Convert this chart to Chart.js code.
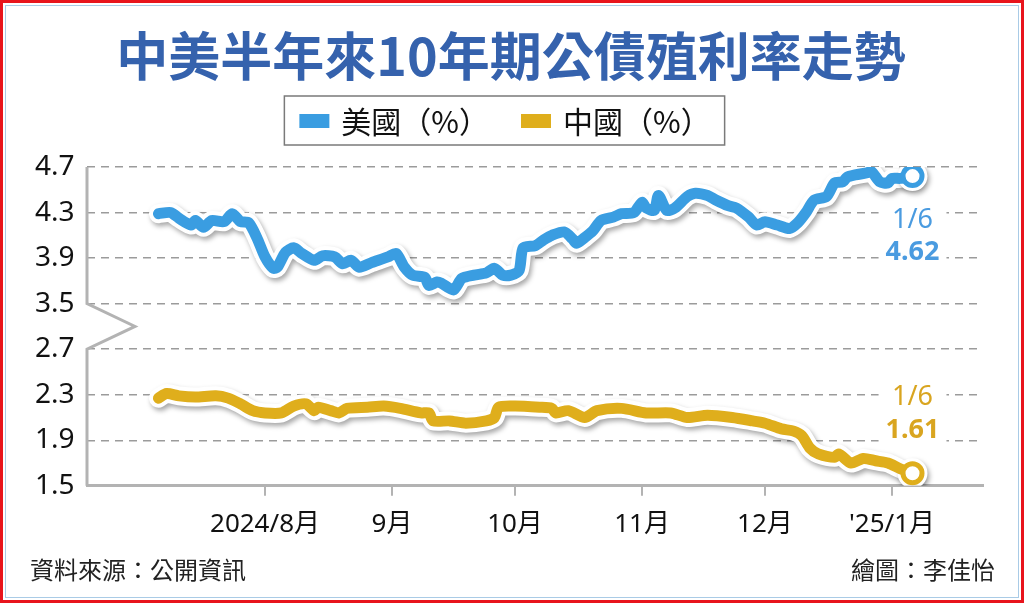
<!DOCTYPE html>
<html>
<head>
<meta charset="utf-8" />
<title>中美半年來10年期公債殖利率走勢</title>
<style>
    body { margin: 0; background: #fff; }
    #wrap { position: relative; width: 1024px; height: 603px; }
    #frameOuter { position: absolute; left: 0; top: 0; right: 0; bottom: 0; border: 3px solid #e8141c; pointer-events: none; }
    #frameInner { position: absolute; left: 5px; top: 5px; right: 5px; bottom: 5px; border: 1.5px solid #a9cbe6; pointer-events: none; }
</style>
</head>
<body>
<div id="wrap">
    <canvas id="chartCanvas"></canvas>
    <div id="frameOuter"></div>
    <div id="frameInner"></div>
</div>

<script src="https://cdn.jsdelivr.net/npm/chart.js@4/dist/chart.umd.min.js"></script>
<script>
    // ---- data ----
    var titleText = '中美半年來10年期公債殖利率走勢';
    var seriesNames = ['美國（%）', '中國（%）'];
    var seriesColors = ['#3a9de1', '#dfae1c'];
    var labelColors = ['#4a9be0', '#d9a520'];
    var yTickLabels = ['1.5', '1.9', '2.3', '2.7', '3.5', '3.9', '4.3', '4.7'];
    var monthTicks = ['8/1', '9/1', '10/1', '11/1', '12/1', '1/1'];
    var monthLabels = ['2024/8月', '9月', '10月', '11月', '12月', "'25/1月"];
    var sourceText = '資料來源：公開資訊';
    var creditText = '繪圖：李佳怡';

    var usDates = ['7/6', '7/9', '7/11', '7/14', '7/15', '7/17', '7/19', '7/22', '7/24', '7/26', '7/28', '7/30',
        '8/1', '8/3', '8/4', '8/6', '8/8', '8/10', '8/13', '8/15', '8/18', '8/20', '8/22', '8/24', '8/27', '8/31',
        '9/2', '9/4', '9/6', '9/9', '9/10', '9/12', '9/13', '9/16', '9/18', '9/21', '9/24', '9/26', '9/28', '9/30',
        '10/2', '10/3', '10/6', '10/8', '10/10', '10/13', '10/15', '10/16', '10/18', '10/20', '10/22', '10/25', '10/27', '10/30',
        '11/1', '11/2', '11/4', '11/5', '11/7', '11/9', '11/12', '11/14', '11/17', '11/19', '11/22', '11/24', '11/27', '11/29',
        '12/1', '12/4', '12/7', '12/9', '12/11', '12/13', '12/16', '12/18', '12/20', '12/21', '12/23', '12/26', '12/27', '12/29', '12/31',
        '1/1', '1/3', '1/6'];
    var usValues = [4.29, 4.30, 4.25, 4.19, 4.23, 4.17, 4.23, 4.22, 4.29, 4.22, 4.21, 4.08,
        3.91, 3.81, 3.82, 3.95, 3.99, 3.94, 3.88, 3.92, 3.91, 3.85, 3.88, 3.82, 3.86, 3.91,
        3.94, 3.82, 3.75, 3.73, 3.66, 3.69, 3.68, 3.62, 3.72, 3.75, 3.77, 3.81, 3.75, 3.75,
        3.79, 3.99, 4.01, 4.06, 4.10, 4.13, 4.07, 4.03, 4.08, 4.14, 4.23, 4.26, 4.29, 4.30,
        4.39, 4.34, 4.32, 4.45, 4.32, 4.34, 4.44, 4.47, 4.45, 4.41, 4.36, 4.34, 4.26, 4.19,
        4.22, 4.19, 4.16, 4.21, 4.30, 4.41, 4.44, 4.56, 4.57, 4.61, 4.63, 4.65, 4.66, 4.57, 4.56,
        4.60, 4.60, 4.62];

    var cnDates = ['7/6', '7/8', '7/11', '7/15', '7/20', '7/23', '7/26', '7/29',
        '8/1', '8/5', '8/8', '8/11', '8/13', '8/14', '8/17', '8/19', '8/21', '8/26', '8/30',
        '9/3', '9/8', '9/10', '9/11', '9/15', '9/19', '9/24', '9/26', '9/27',
        '10/1', '10/7', '10/10', '10/11', '10/14', '10/18', '10/21', '10/27',
        '11/2', '11/8', '11/12', '11/17', '11/23', '11/28',
        '12/1', '12/5', '12/8', '12/10', '12/12', '12/14', '12/18', '12/19', '12/22', '12/25', '12/28', '12/31',
        '1/3', '1/6'];
    var cnValues = [2.27, 2.31, 2.29, 2.28, 2.29, 2.27, 2.22, 2.16,
        2.14, 2.14, 2.20, 2.22, 2.16, 2.19, 2.16, 2.14, 2.18, 2.19, 2.20,
        2.18, 2.14, 2.14, 2.07, 2.07, 2.05, 2.07, 2.10, 2.19,
        2.20, 2.19, 2.18, 2.14, 2.16, 2.10, 2.16, 2.18,
        2.14, 2.14, 2.10, 2.12, 2.10, 2.07,
        2.05, 2.00, 1.98, 1.94, 1.83, 1.78, 1.75, 1.78, 1.70, 1.74, 1.72, 1.70,
        1.65, 1.61];

    // ---- helpers ----
    function dayIndex(md) {
        var p = md.split('/');
        var m = +p[0], d = +p[1];
        var y = m >= 7 ? 2024 : 2025;
        return (Date.UTC(y, m - 1, d) - Date.UTC(2024, 6, 1)) / 86400000;
    }
    // broken y axis: 1.5..2.7 -> 0..3, 3.5..4.7 -> 4..7
    function axisPos(v) {
        return v >= 3.1 ? 4 + (v - 3.5) / 0.4 : (v - 1.5) / 0.4;
    }
    function toPoints(dates, values) {
        return dates.map(function (d, i) { return { x: dayIndex(d), y: axisPos(values[i]) }; });
    }

    var cjk = "'Noto Sans CJK TC', 'Noto Sans', sans-serif";
    var latin = "'Noto Sans', 'Noto Sans CJK TC', sans-serif";

    function outlineSet(points) {
        var last = points.length - 1;
        return {
            data: points, isOutline: true, order: 2,
            borderColor: '#ffffff', borderWidth: 19, tension: 0.25,
            borderJoinStyle: 'round', borderCapStyle: 'round',
            pointRadius: function (c) { return c.dataIndex === last ? 9.5 : 0; },
            pointBackgroundColor: '#ffffff', pointBorderColor: '#ffffff', pointBorderWidth: 11
        };
    }
    function colorSet(points, color) {
        var last = points.length - 1;
        return {
            data: points, order: 1,
            borderColor: color, backgroundColor: color, borderWidth: 11, tension: 0.25,
            borderJoinStyle: 'round', borderCapStyle: 'round',
            pointRadius: function (c) { return c.dataIndex === last ? 9.5 : 0; },
            pointBackgroundColor: '#ffffff', pointBorderColor: color, pointBorderWidth: 5
        };
    }

    var usPoints = toPoints(usDates, usValues);
    var cnPoints = toPoints(cnDates, cnValues);

    // ---- plugins ----
    var shadowPlugin = {
        id: 'lineShadow',
        beforeDatasetDraw: function (chart, args) {
            if (!chart.data.datasets[args.index].isOutline) return;
            var ctx = chart.ctx;
            ctx.save();
            ctx.shadowColor = 'rgba(0,0,0,0.35)';
            ctx.shadowBlur = 5;
            ctx.shadowOffsetX = 2;
            ctx.shadowOffsetY = 3;
        },
        afterDatasetDraw: function (chart, args) {
            if (chart.data.datasets[args.index].isOutline) chart.ctx.restore();
        }
    };

    var axisBreakPlugin = {
        id: 'axisBreak',
        beforeDatasetsDraw: function (chart) {
            var y = chart.scales.y, a = chart.chartArea, ctx = chart.ctx;
            var hi = y.getPixelForValue(4), lo = y.getPixelForValue(3);
            ctx.save();
            ctx.strokeStyle = '#b3b3b3';
            ctx.lineWidth = 3;
            ctx.beginPath();
            ctx.moveTo(a.left, a.top);
            ctx.lineTo(a.left, hi);
            ctx.lineTo(a.left + 48, (hi + lo) / 2);
            ctx.lineTo(a.left, lo);
            ctx.lineTo(a.left, a.bottom);
            ctx.stroke();
            ctx.restore();
        }
    };

    var endLabelPlugin = {
        id: 'endLabels',
        afterDatasetsDraw: function (chart) {
            var ctx = chart.ctx;
            var items = [
                { idx: 1, dates: usDates, values: usValues, color: labelColors[0], off: [44, 76] },
                { idx: 3, dates: cnDates, values: cnValues, color: labelColors[1], off: [-76, -43] }
            ];
            ctx.save();
            ctx.textAlign = 'center';
            ctx.textBaseline = 'middle';
            items.forEach(function (it) {
                var meta = chart.getDatasetMeta(it.idx);
                var pt = meta.data[meta.data.length - 1];
                var t1 = it.dates[it.dates.length - 1];
                var t2 = it.values[it.values.length - 1].toFixed(2);
                ctx.font = "bold 27px " + latin;
                var w = Math.max(ctx.measureText(t1).width, ctx.measureText(t2).width) + 14;
                var top = Math.min(pt.y + it.off[0], pt.y + it.off[1]) - 16;
                ctx.fillStyle = '#ffffff';
                ctx.fillRect(pt.x - w / 2, top, w, Math.abs(it.off[1] - it.off[0]) + 32);
                ctx.fillStyle = it.color;
                ctx.font = "27px " + latin;
                ctx.fillText(t1, pt.x, pt.y + it.off[0]);
                ctx.font = "bold 27px " + latin;
                ctx.fillText(t2, pt.x, pt.y + it.off[1]);
            });
            ctx.restore();
        }
    };

    var headerFooterPlugin = {
        id: 'headerFooter',
        afterDraw: function (chart) {
            var ctx = chart.ctx;
            ctx.save();
            // title
            ctx.font = "bold 52px " + cjk;
            ctx.fillStyle = '#3562ad';
            ctx.textAlign = 'center';
            ctx.textBaseline = 'middle';
            ctx.fillText(titleText, 511, 56);
            // legend
            ctx.font = "30px " + cjk;
            var sw = 30, gapText = 12, gapItem = 32;
            var w0 = ctx.measureText(seriesNames[0]).width;
            var w1 = ctx.measureText(seriesNames[1]).width;
            var total = sw + gapText + w0 + gapItem + sw + gapText + w1;
            var x = 505 - total / 2, cy = 121;
            ctx.strokeStyle = '#7a7a7a';
            ctx.lineWidth = 1.5;
            ctx.strokeRect(x - 15, 96, total + 29, 49);
            ctx.textAlign = 'left';
            [w0, w1].forEach(function (w, i) {
                ctx.fillStyle = seriesColors[i];
                ctx.fillRect(x, cy - 7, sw, 14);
                ctx.fillStyle = '#111';
                ctx.fillText(seriesNames[i], x + sw + gapText, cy + 1);
                x += sw + gapText + w + gapItem;
            });
            // footer
            ctx.font = "24px " + cjk;
            ctx.fillStyle = '#222';
            ctx.fillText(sourceText, 30, 570);
            ctx.textAlign = 'right';
            ctx.fillText(creditText, 995, 570);
            ctx.restore();
        }
    };

    Chart.defaults.font.family = latin;

    var chart1 = new Chart(document.getElementById('chartCanvas'), {
        type: 'line',
        data: {
            datasets: [
                outlineSet(usPoints),
                colorSet(usPoints, seriesColors[0]),
                outlineSet(cnPoints),
                colorSet(cnPoints, seriesColors[1])
            ]
        },
        options: {
            responsive: true,
            maintainAspectRatio: false,
            animation: false,
            layout: { padding: { left: 35, right: 41, top: 167, bottom: 50 } },
            plugins: {
                legend: { display: false },
                tooltip: { enabled: false },
                title: { display: false }
            },
            scales: {
                x: {
                    type: 'linear',
                    min: -12.44,
                    max: 206.2,
                    afterBuildTicks: function (scale) {
                        scale.ticks = monthTicks.map(function (d) { return { value: dayIndex(d) }; });
                    },
                    ticks: {
                        autoSkip: false, maxRotation: 0, padding: 13,
                        color: '#111', font: { size: 26 },
                        callback: function (value, index) { return monthLabels[index]; }
                    },
                    grid: { display: true, drawOnChartArea: false, drawTicks: true, tickLength: 10, color: '#b3b3b3', lineWidth: 2 },
                    border: { display: true, color: '#b3b3b3', width: 3 }
                },
                y: {
                    type: 'linear',
                    min: 0,
                    max: 7,
                    afterBuildTicks: function (scale) {
                        scale.ticks = yTickLabels.map(function (_, i) { return { value: i }; });
                    },
                    afterFit: function (scale) { scale.width = 52; },
                    ticks: {
                        padding: 12, crossAlign: 'far', color: '#111', font: { size: 28 },
                        callback: function (value, index) { return yTickLabels[index]; }
                    },
                    grid: { color: '#9b9b9b', lineWidth: 1.5, drawTicks: false },
                    border: { display: false, dash: [8, 6] }
                }
            }
        },
        plugins: [shadowPlugin, axisBreakPlugin, endLabelPlugin, headerFooterPlugin]
    });
</script>
</body>
</html>
